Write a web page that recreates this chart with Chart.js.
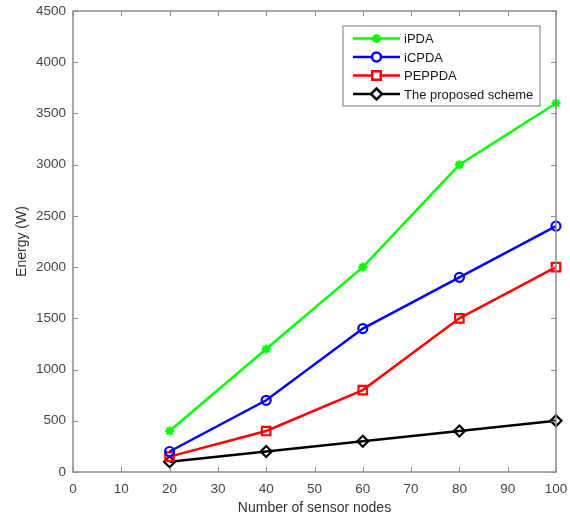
<!DOCTYPE html>
<html>
<head>
<meta charset="utf-8">
<script src="https://cdn.jsdelivr.net/npm/chart.js@4"></script>
<style>
  html, body { margin: 0; padding: 0; background: #fff; }
  #wrap { width: 570px; height: 523px; }
</style>
</head>
<body>
<div id="wrap"><canvas id="energyChart" width="570" height="523"></canvas></div>
<script>
// valeurs
var nodes = [20, 40, 60, 80, 100];
var iPDA = [400, 1200, 2000, 3000, 3600];
var iCPDA = [200, 700, 1400, 1900, 2400];
var PEPPDA = [150, 400, 800, 1500, 2000];
var proposed = [100, 200, 300, 400, 500];

var seriesNames = ['iPDA', 'iCPDA', 'PEPPDA', 'The proposed scheme'];
var seriesColors = ['#00ff00', '#0000ff', '#ff0000', '#000000'];
var seriesMarkers = ['star', 'circle', 'rect', 'rectRot'];
var markerSizes = [4.5, 4.5, 6, 5.5];

function toPoints(values) {
    return nodes.map((n, i) => ({ x: n, y: values[i] }));
}

var axisGray = '#8c8c8c';
var font = "Arial, 'Liberation Sans', sans-serif";

// boite + graduations vers l'interieur (style matlab)
var boxPlugin = {
    id: 'boxTicks',
    afterDraw(chart) {
        var c = chart.ctx, a = chart.chartArea;
        var xs = chart.scales.x, ys = chart.scales.y;
        c.save();
        c.strokeStyle = axisGray;
        c.lineWidth = 1.5;
        c.strokeRect(a.left, a.top, a.right - a.left, a.bottom - a.top);
        c.lineWidth = 1;
        c.beginPath();
        xs.ticks.forEach(t => {
            var px = Math.round(xs.getPixelForValue(t.value)) + 0.5;
            c.moveTo(px, a.bottom); c.lineTo(px, a.bottom - 5);
            c.moveTo(px, a.top); c.lineTo(px, a.top + 5);
        });
        ys.ticks.forEach(t => {
            var py = Math.round(ys.getPixelForValue(t.value)) + 0.5;
            c.moveTo(a.left, py); c.lineTo(a.left + 5, py);
            c.moveTo(a.right, py); c.lineTo(a.right - 5, py);
        });
        c.stroke();
        c.restore();
    }
};

// legende dans le cadre, en haut a droite
var legendPlugin = {
    id: 'innerLegend',
    afterDraw(chart) {
        var c = chart.ctx;
        var x0 = 343, y0 = 26, w = 197, h = 80;
        c.save();
        c.fillStyle = '#fff';
        c.fillRect(x0, y0, w, h);
        c.strokeStyle = axisGray;
        c.lineWidth = 1.2;
        c.strokeRect(x0, y0, w, h);
        seriesNames.forEach((name, i) => {
            var y = 38.5 + i * 18.5;
            c.strokeStyle = seriesColors[i];
            c.lineWidth = 2.5;
            c.beginPath();
            c.moveTo(353, y); c.lineTo(400, y);
            c.stroke();
            c.fillStyle = i === 0 ? seriesColors[i] : '#ffffff';
            Chart.helpers.drawPoint(c, {
                pointStyle: seriesMarkers[i], radius: markerSizes[i], borderWidth: 2.2, rotation: 0
            }, 376.5, y);
            c.fillStyle = '#1a1a1a';
            c.font = '13px ' + font;
            c.textBaseline = 'middle';
            c.textAlign = 'left';
            c.fillText(name, 404, y + 1);
        });
        c.restore();
    }
};

var datasets = [iPDA, iCPDA, PEPPDA, proposed].map((vals, i) => ({
    label: seriesNames[i],
    data: toPoints(vals),
    borderColor: seriesColors[i],
    backgroundColor: i === 0 ? seriesColors[i] : '#ffffff',
    borderWidth: 2.5,
    pointStyle: seriesMarkers[i],
    pointRadius: markerSizes[i],
    pointBorderWidth: 2.2,
    pointBackgroundColor: i === 0 ? seriesColors[i] : 'rgba(255,255,255,0)',
    clip: false,
    tension: 0
}));

var ctx = document.getElementById('energyChart').getContext('2d');
var energyChart = new Chart(ctx, {
    type: 'line',
    data: { datasets: datasets },
    options: {
        responsive: false,
        animation: false,
        layout: { padding: { left: 0, right: 14, top: 11, bottom: 0 } },
        plugins: { legend: { display: false }, tooltip: { enabled: false } },
        scales: {
            x: {
                type: 'linear',
                min: 0, max: 100,
                afterFit(s) { s.height = 51; s.paddingLeft = 0; s.paddingRight = 0; },
                grid: { display: false, drawTicks: false },
                border: { display: false },
                ticks: { stepSize: 10, padding: 9, color: '#444', font: { family: font, size: 13.5 },
                         callback: v => String(v) },
                title: { display: true, text: 'Number of sensor nodes', color: '#333',
                         font: { family: font, size: 14 }, padding: { top: 0, bottom: 6 } }
            },
            y: {
                min: 0, max: 4500,
                afterFit(s) { s.width = 73; s.paddingTop = 0; s.paddingBottom = 0; },
                grid: { display: false, drawTicks: false },
                border: { display: false },
                ticks: { stepSize: 500, padding: 7, color: '#444', font: { family: font, size: 13.5 },
                         callback: v => String(v) },
                title: { display: true, text: 'Energy (W)', color: '#333',
                         font: { family: font, size: 14 }, padding: { top: 14, bottom: 0 } }
            }
        }
    },
    plugins: [boxPlugin, legendPlugin]
});
</script>
</body>
</html>
